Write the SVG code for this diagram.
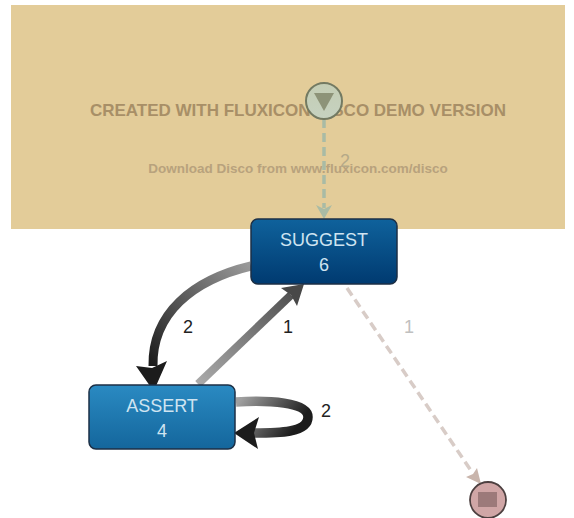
<svg xmlns="http://www.w3.org/2000/svg" width="574" height="518" viewBox="0 0 574 518">
<style>
text{font-family:"Liberation Sans",Arial,sans-serif;text-anchor:middle}
.wm1{font-size:17px;font-weight:bold;fill:#a88f67}
.wm2{font-size:13.5px;font-weight:bold;fill:#b8a27d}
.nl{font-size:18px;fill:#cfe4f1}
.el{font-size:18px;fill:#222}
.dash{fill:none;stroke-width:3.5;stroke-dasharray:9 5}
.node{stroke:#1c2f45;stroke-width:1.5}
</style>
<defs>
<linearGradient id="gs" x1="0" y1="0" x2="0" y2="1"><stop offset="0" stop-color="#0f629c"/><stop offset="1" stop-color="#003a70"/></linearGradient>
<linearGradient id="ga" x1="0" y1="0" x2="0" y2="1"><stop offset="0" stop-color="#2a8ac2"/><stop offset="1" stop-color="#14669c"/></linearGradient>
<linearGradient id="gstart" x1="0" y1="0" x2="0" y2="1"><stop offset="0" stop-color="#c4cdb4"/><stop offset="1" stop-color="#c6d2c0"/></linearGradient>
<linearGradient id="e1" gradientUnits="userSpaceOnUse" x1="250" y1="266" x2="153" y2="365"><stop offset="0" stop-color="#999"/><stop offset="0.55" stop-color="#555"/><stop offset="1" stop-color="#1c1c1c"/></linearGradient>
<linearGradient id="e2" gradientUnits="userSpaceOnUse" x1="198" y1="384" x2="302" y2="284"><stop offset="0" stop-color="#aaa"/><stop offset="1" stop-color="#484848"/></linearGradient>
<linearGradient id="e3" gradientUnits="userSpaceOnUse" x1="240" y1="400" x2="290" y2="436"><stop offset="0" stop-color="#a0a0a0"/><stop offset="1" stop-color="#1c1c1c"/></linearGradient>
</defs>
<rect x="11" y="5" width="554" height="224" fill="#e3cc99"/>
<text class="wm1" x="298" y="116">CREATED WITH FLUXICON DISCO DEMO VERSION</text>
<text class="wm2" x="298" y="173">Download Disco from www.fluxicon.com/disco</text>
<g id="connectors">
<path class="dash" stroke="#a9bba5" d="M324 119V208"/>
<path fill="#a9bba5" d="M316 205L324 209L332 205L324 219Z"/>
<text class="el" x="345" y="167" style="fill:#b5a988">2</text>
<path d="M251 266C192 280 152 314 153 366" fill="none" stroke="url(#e1)" stroke-width="9"/>
<path fill="#1c1c1c" d="M136 366L152 368L167 361L156 386H150Z"/>
<text class="el" x="188" y="333">2</text>
<path d="M198 384L291 295" fill="none" stroke="url(#e2)" stroke-width="8"/>
<path fill="#484848" d="M281 288L304 284L297 306L291 295Z"/>
<text class="el" x="288" y="333">1</text>
<path d="M236 402C268 400 308 402 308 417C308 433 278 433 254 433" fill="none" stroke="url(#e3)" stroke-width="9.500"/>
<path fill="#1c1c1c" d="M259 417L234 433L258 449L254 433Z"/>
<text class="el" x="326" y="417">2</text>
<path class="dash" stroke="#d8ccc7" d="M347 288L472 472"/>
<path fill="#c9b5ac" d="M466 477L473 474L477 468L481 484Z"/>
<text class="el" x="409" y="333" style="fill:#c0c0c0">1</text>
</g>
<g id="start"><circle cx="324" cy="101" r="18" fill="url(#gstart)" stroke="#737a62" stroke-width="2"/><path d="M314 93H334L324 111Z" fill="#8d9378"/></g>
<g id="suggest"><rect class="node" x="251" y="219" width="146" height="65" rx="7" fill="url(#gs)"/><text class="nl" x="324" y="246">SUGGEST</text><text class="nl" x="324" y="271">6</text></g>
<g id="assert"><rect class="node" x="89" y="385" width="146" height="64" rx="7" fill="url(#ga)"/><text class="nl" x="162" y="412">ASSERT</text><text class="nl" x="162" y="437">4</text></g>
<g id="end"><circle cx="488" cy="500" r="18" fill="#d0a6a6" stroke="#4d4040" stroke-width="1.800"/><rect x="478" y="492" width="19" height="15" fill="#9c7a7a"/></g>
</svg>
